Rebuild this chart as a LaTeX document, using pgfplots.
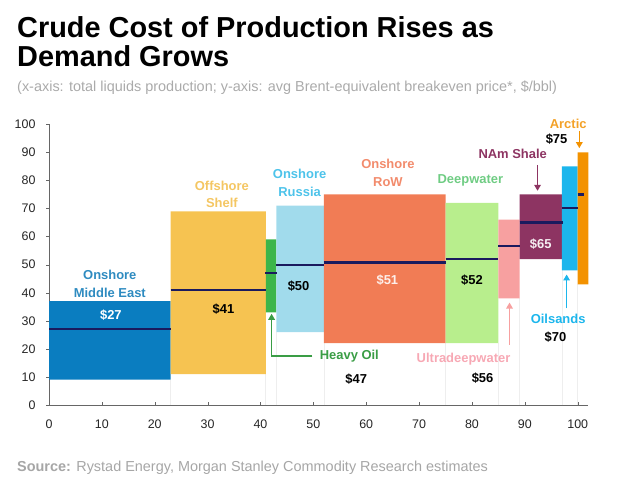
\documentclass[border=0pt]{standalone}
\usepackage{fontspec}
\setmainfont{Liberation Sans}
\usepackage{pgfplots}
\pgfplotsset{compat=1.18}
\usetikzlibrary{arrows.meta}
\definecolor{cME}{HTML}{0A7DC0}
\definecolor{cShelf}{HTML}{F6C351}
\definecolor{cHeavy}{HTML}{3DB54A}
\definecolor{cRussia}{HTML}{A1DBEC}
\definecolor{cRoW}{HTML}{F17C55}
\definecolor{cDeep}{HTML}{B8EE8D}
\definecolor{cUltra}{HTML}{F7A0A0}
\definecolor{cShale}{HTML}{8D3462}
\definecolor{cOil}{HTML}{1CB6EC}
\definecolor{cArctic}{HTML}{F39200}
\definecolor{meanc}{HTML}{1A1A5E}
\definecolor{lME}{HTML}{2E8BC0}
\definecolor{lShelf}{HTML}{F4C662}
\definecolor{lHeavy}{HTML}{3A9D45}
\definecolor{lRussia}{HTML}{4DC3EA}
\definecolor{lRoW}{HTML}{F28B6C}
\definecolor{lDeep}{HTML}{6FCC83}
\definecolor{lUltra}{HTML}{F7A8B4}
\definecolor{lArctic}{HTML}{F3A127}
\definecolor{subgray}{HTML}{AAAAAA}
\definecolor{srcgray}{HTML}{A6A6A6}
\definecolor{faint}{HTML}{EEEEEE}
\begin{document}
\begin{tikzpicture}
\path[use as bounding box] (0bp,0bp) rectangle (630bp,490bp);
\node[anchor=base west, inner sep=0, font=\bfseries\fontsize{29}{30}\selectfont] at (17bp,452.3bp) {Crude Cost of Production Rises as};
\node[anchor=base west, inner sep=0, font=\bfseries\fontsize{29}{30}\selectfont] at (17bp,423.3bp) {Demand Grows};
\node[anchor=base west, inner sep=0, text=subgray, font=\fontsize{14.5}{16}\selectfont] at (17bp,398bp) {(x-axis: total liquids production; y-axis: avg Brent-equivalent breakeven price*, \$/bbl)};
\node[anchor=base west, inner sep=0, text=srcgray, font=\fontsize{14.5}{16}\selectfont] at (17bp,19bp) {\textbf{Source:} Rystad Energy, Morgan Stanley Commodity Research estimates};
\begin{axis}[
  at={(49bp,85bp)}, anchor=south west, scale only axis,
  width=539.3bp, height=280.7bp,
  xmin=0, xmax=102, ymin=0, ymax=100,
  axis x line*=bottom, axis y line*=left,
  axis line style={-, draw=black!60},
  xtick={0,10,...,100}, ytick={0,10,...,100},
  xtick align=inside, ytick align=outside, major tick length=3bp,
  tick style={draw=black!60},
  ticklabel style={font=\fontsize{12.5}{14}\selectfont, text=black!85},
  /pgf/number format/assume math mode=true,
  yticklabel style={xshift=-7bp},
  xticklabel style={yshift=-11bp},
  clip=false,
  every axis plot/.append style={draw=none},
]
% faint guide lines
\addplot[draw=faint, line width=0.6bp] coordinates {(23,0) (23,9)};
\addplot[draw=faint, line width=0.6bp] coordinates {(41,0) (41,11)};
\addplot[draw=faint, line width=0.6bp] coordinates {(43,0) (43,26)};
\addplot[draw=faint, line width=0.6bp] coordinates {(52,0) (52,22)};
\addplot[draw=faint, line width=0.6bp] coordinates {(75,0) (75,22)};
\addplot[draw=faint, line width=0.6bp] coordinates {(85,0) (85,22)};
\addplot[draw=faint, line width=0.6bp] coordinates {(89,0) (89,38)};
\addplot[draw=faint, line width=0.6bp] coordinates {(97,0) (97,48)};
\addplot[draw=faint, line width=0.6bp] coordinates {(100,0) (100,43)};
% bars
\addplot[fill=cME] coordinates {(0,9) (23,9) (23,37) (0,37) (0,9)};
\addplot[fill=cShelf] coordinates {(23,11) (41,11) (41,69) (23,69) (23,11)};
\addplot[fill=cHeavy] coordinates {(41,33) (43,33) (43,59) (41,59) (41,33)};
\addplot[fill=cRussia] coordinates {(43,26) (52,26) (52,71) (43,71) (43,26)};
\addplot[fill=cRoW] coordinates {(52,22) (75,22) (75,75) (52,75) (52,22)};
\addplot[fill=cDeep] coordinates {(75,22) (85,22) (85,72) (75,72) (75,22)};
\addplot[fill=cUltra] coordinates {(85,38) (89,38) (89,66) (85,66) (85,38)};
\addplot[fill=cShale] coordinates {(89,52) (97,52) (97,75) (89,75) (89,52)};
\addplot[fill=cOil] coordinates {(97,48) (100,48) (100,85) (97,85) (97,48)};
\addplot[fill=cArctic] coordinates {(100,43) (102,43) (102,90) (100,90) (100,43)};
% mean lines
\addplot[draw=meanc, line width=2.2bp] coordinates {(0,27.2) (23,27.2)};
\addplot[draw=meanc, line width=2.2bp] coordinates {(23,41) (41,41)};
\addplot[draw=meanc, line width=2.2bp] coordinates {(40.9,46.9) (43.2,46.9)};
\addplot[draw=meanc, line width=2.2bp] coordinates {(43,50) (52,50)};
\addplot[draw=meanc, line width=2.2bp] coordinates {(52,50.8) (75,50.8)};
\addplot[draw=meanc, line width=2.2bp] coordinates {(75,52) (85,52)};
\addplot[draw=meanc, line width=2.2bp] coordinates {(85,56.6) (89,56.6)};
\addplot[draw=meanc, line width=2.2bp] coordinates {(89,65) (97.3,65)};
\addplot[draw=meanc, line width=2.2bp] coordinates {(97,70.3) (100,70.3)};
\addplot[draw=meanc, line width=2.2bp] coordinates {(100,75) (101.1,75)};
% labels
\tikzset{lab/.style={font=\bfseries\fontsize{13}{17.5}\selectfont, align=center, inner sep=0}}
\node[lab, text=lME] at (axis cs:11.5,43.2) {Onshore\\Middle East};
\node[lab, text=white] at (axis cs:11.7,32) {\$27};
\node[lab, text=lShelf] at (axis cs:32.7,75.1) {Offshore\\Shelf};
\node[lab, text=black] at (axis cs:33,34.2) {\$41};
\node[lab, text=lRussia] at (axis cs:47.4,79.2) {Onshore\\Russia};
\node[lab, text=black] at (axis cs:47.2,42.4) {\$50};
\node[lab, text=lRoW] at (axis cs:64.1,82.7) {Onshore\\RoW};
\node[lab, text=white!88!cRoW] at (axis cs:64,44.5) {\$51};
\node[lab, text=lDeep] at (axis cs:79.7,79.9) {Deepwater};
\node[lab, text=black] at (axis cs:80,44.5) {\$52};
\node[lab, text=cShale] at (axis cs:87.7,89.3) {NAm Shale};
\node[lab, text=white!92!cShale] at (axis cs:93,57.2) {\$65};
\node[lab, text=lArctic] at (axis cs:98.2,100.1) {Arctic};
\node[lab, text=black] at (axis cs:96,94.6) {\$75};
\node[lab, text=cOil] at (axis cs:96.3,30.7) {Oilsands};
\node[lab, text=black] at (axis cs:95.8,24.1) {\$70};
\node[lab, text=lUltra] at (axis cs:78.4,16.3) {Ultradeepwater};
\node[lab, text=black] at (axis cs:82,9.5) {\$56};
\node[lab, text=lHeavy] at (axis cs:56.8,17.5) {Heavy Oil};
\node[lab, text=black] at (axis cs:58.1,9.3) {\$47};
% arrows
\tikzset{arr/.style={line width=1.6bp, -{Triangle[length=6bp,width=6.5bp]}}}
\draw[arr, cShale] (axis cs:92.4,85.5) -- (axis cs:92.4,76.3);
\draw[arr, cArctic] (axis cs:100.3,97.7) -- (axis cs:100.3,91.5);
\draw[arr, cOil] (axis cs:97.9,34.4) -- (axis cs:97.9,46.5);
\draw[arr, cUltra] (axis cs:87.1,21.4) -- (axis cs:87.1,36.5);
\draw[arr, lHeavy] (axis cs:49.8,17.5) -- (axis cs:42.1,17.5) -- (axis cs:42.1,32.5);
\end{axis}
\end{tikzpicture}
\end{document}
